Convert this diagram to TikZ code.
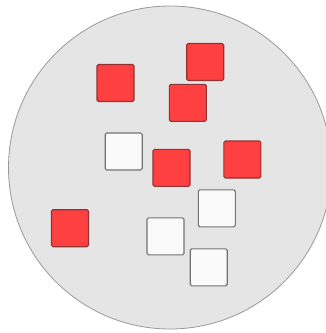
\documentclass[tikz,border=0pt]{standalone}
\begin{document}
\begin{tikzpicture}[x=1pt,y=-1pt,
  sq/.style={rectangle,rounded corners=1.5pt,minimum size=37pt,inner sep=0pt,line width=1.1pt},
  redsq/.style={sq,fill=red!75!white,draw=black!55!red!80},
  whitesq/.style={sq,fill=black!2,draw=black!55}]
\useasboundingbox (0,0) rectangle (326,333);
\begin{scope}
\clip (0,0) rectangle (326,333);
\node[circle,minimum size=323pt,inner sep=0pt,fill=black!10,draw=black!40,line width=0.8pt] (disk) at (170,167.5) {};
\end{scope}
\node[redsq] (r1) at (115.5,83) {};
\node[redsq] (r2) at (205.2,62) {};
\node[redsq] (r3) at (187.8,102.8) {};
\node[whitesq] (w1) at (123.7,151.5) {};
\node[redsq] (r4) at (171.5,167.8) {};
\node[redsq] (r5) at (242.3,159.5) {};
\node[whitesq] (w2) at (216.8,208.3) {};
\node[redsq] (r6) at (70,228.2) {};
\node[whitesq] (w3) at (165.5,236.3) {};
\node[whitesq] (w4) at (208.7,267.3) {};
\end{tikzpicture}
\end{document}
